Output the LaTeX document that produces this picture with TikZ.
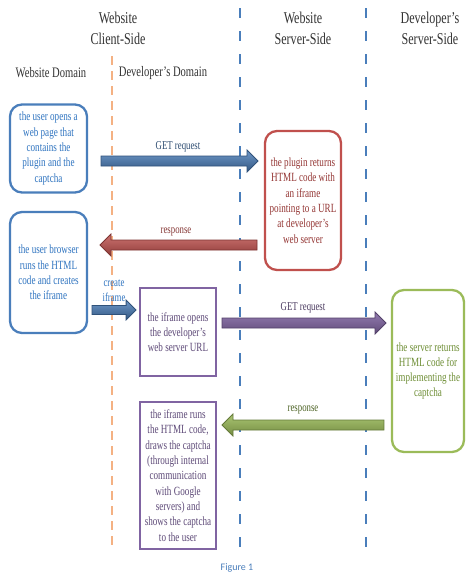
\documentclass[tikz,border=0pt]{standalone}
\usepackage{fontspec}
\setmainfont[FakeStretch=0.73]{Liberation Serif}
\newfontfamily\figfont{Carlito}
\usetikzlibrary{calc}
\definecolor{bluebox}{HTML}{4A7EBB}
\definecolor{bluetext}{HTML}{2F74C0}
\definecolor{redbox}{HTML}{C0504D}
\definecolor{redtext}{HTML}{943634}
\definecolor{purplebox}{HTML}{8064A2}
\definecolor{purpletext}{HTML}{5E4A78}
\definecolor{greenbox}{HTML}{9BBB59}
\definecolor{greentext}{HTML}{6E8E35}
\definecolor{orangeline}{HTML}{F4B183}
\definecolor{headtext}{HTML}{333333}
\newcommand\barrow[4][5pt]{%
  \path[#2] let \p1=(#3), \p2=(#4), \n1={ifthenelse(\x2>\x1,1,-1)} in
   (\x1,\y1+#1) -- (\x2-\n1*2.2*#1,\y1+#1) -- (\x2-\n1*2.2*#1,\y1+2.2*#1) -- (\x2,\y1)
   -- (\x2-\n1*2.2*#1,\y1-2.2*#1) -- (\x2-\n1*2.2*#1,\y1-#1) -- (\x1,\y1-#1) -- cycle;}
\tikzset{
  box/.style={draw, line width=2.3pt, inner sep=0pt, align=center,
    font=\fontsize{12.5}{15.3}\selectfont},
  roundbox/.style={box, rounded corners=12pt},
  head/.style={font=\fontsize{16.5}{21}\selectfont, text=headtext, align=center},
  domainlbl/.style={font=\fontsize{14.5}{15}\selectfont, text=headtext},
  lbl/.style={font=\fontsize{12}{15}\selectfont, align=center},
  bluedash/.style={draw=bluebox, line width=2.4pt, dash pattern=on 10pt off 13pt},
  orangedash/.style={draw=orangeline, line width=2pt, dash pattern=on 9pt off 6pt},
  bluearrow/.style={draw=bluebox!65!black, line width=0.8pt, top color=bluebox!80!white, bottom color=bluebox!70!black},
  redarrow/.style={draw=redbox!65!black, line width=0.8pt, top color=redbox!80!white, bottom color=redbox!75!black},
  purplearrow/.style={draw=purplebox!65!black, line width=0.8pt, top color=purplebox!85!white, bottom color=purplebox!75!black},
  greenarrow/.style={draw=greenbox!65!black, line width=0.8pt, top color=greenbox!85!white, bottom color=greenbox!75!black},
}
\begin{document}
\begin{tikzpicture}[x=1pt,y=-1pt]
\useasboundingbox[fill=white] (0,0) rectangle (466,576);
% headers
\node[head] (h1) at (118,28) {Website\\Client-Side};
\node[head] (h2) at (303,28) {Website\\Server-Side};
\node[head] (h3) at (430,28) {Developer’s\\Server-Side};
\node[domainlbl] (d1) at (51,73) {Website Domain};
\node[domainlbl] (d2) at (163,73) {Developer’s Domain};
% lifelines
\coordinate (o1) at (112,56); \coordinate (o2) at (112,549);
\coordinate (l1t) at (240,8); \coordinate (l1b) at (240,548);
\coordinate (l2t) at (366,8); \coordinate (l2b) at (366,548);
\draw[orangedash] (o1) -- (o2);
\draw[bluedash] (l1t) -- (l1b);
\draw[bluedash] (l2t) -- (l2b);
% boxes
\node[roundbox, draw=bluebox, text=bluetext, minimum width=77pt, minimum height=88pt] (b1) at (48.5,148.5)
  {the user opens a\\web page that\\contains the\\plugin and the\\captcha};
\node[roundbox, draw=bluebox, text=bluetext, minimum width=77pt, minimum height=121pt] (b2) at (48.5,272.5)
  {the user browser\\runs the HTML\\code and creates\\the iframe};
\node[roundbox, draw=redbox, text=redtext, minimum width=76pt, minimum height=139pt] (r1) at (303,200.5)
  {the plugin returns\\HTML code with\\an iframe\\pointing to a URL\\at developer's\\web server};
\node[box, draw=purplebox, text=purpletext, minimum width=76pt, minimum height=88pt] (p1) at (178,332)
  {the iframe opens\\the developer’s\\web server URL};
\node[box, draw=purplebox, text=purpletext, minimum width=76pt, minimum height=147pt] (p2) at (178,475.5)
  {the iframe runs\\the HTML code,\\draws the captcha\\(through internal\\communication\\with Google\\servers) and\\shows the captcha\\to the user};
\node[roundbox, draw=greenbox, text=greentext, minimum width=72pt, minimum height=162pt] (g1) at (428,371)
  {the server returns\\HTML code for\\implementing the\\captcha};
% arrow end points
\coordinate (a1s) at (101,161); \coordinate (a1e) at (258,161);
\coordinate (a2s) at (257,245); \coordinate (a2e) at (100,245);
\coordinate (a3s) at (92,310);  \coordinate (a3e) at (136,310);
\coordinate (a4s) at (222,323); \coordinate (a4e) at (386,323);
\coordinate (a5s) at (384,425); \coordinate (a5e) at (222,425);
\barrow{bluearrow}{a1s}{a1e}
\barrow{redarrow}{a2s}{a2e}
\barrow[4.5pt]{bluearrow}{a3s}{a3e}
\barrow{purplearrow}{a4s}{a4e}
\barrow{greenarrow}{a5s}{a5e}
% labels
\node[lbl, text=bluebox!60!black] (t1) at (178,147) {GET request};
\node[lbl, text=redbox!70!black] (t2) at (176,232) {response};
\node[lbl, text=bluetext] (t3) at (114,291) {create\\iframe};
\node[lbl, text=purpletext!80!black] (t4) at (303,308) {GET request};
\node[lbl, text=greentext!70!black] (t5) at (303,410) {response};
\node[font=\figfont\fontsize{10}{12}\selectfont, text=bluebox] (fig) at (237,568) {Figure 1};
\end{tikzpicture}
\end{document}
